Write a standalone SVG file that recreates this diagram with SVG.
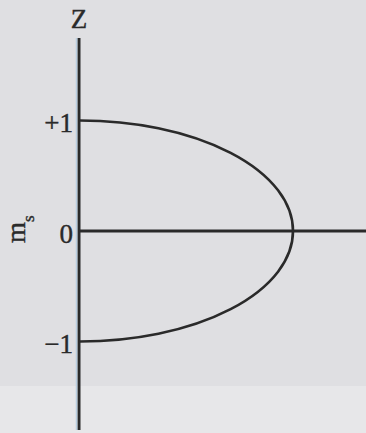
<svg xmlns="http://www.w3.org/2000/svg" width="366" height="433" viewBox="0 0 366 433">
<style>
.t{font-family:"Liberation Serif","DejaVu Serif",serif;font-size:27px;fill:#2a2a2a;stroke:#2a2a2a;stroke-width:0.4}
.ax{stroke:#2a2a2a;stroke-width:3;fill:none}
.cv{stroke:#2a2a2a;stroke-width:2.6;fill:none}
</style>
<rect width="366" height="433" fill="#dfdfe2"/>
<rect y="386" width="366" height="47" fill="#e7e7e9"/>
<g id="connectors">
<line class="ax" x1="79" y1="38" x2="79" y2="430"/>
<line x1="76.5" y1="38" x2="76.5" y2="430" stroke="#b8cde0" stroke-width="1.5"/>
<line class="ax" x1="79" y1="231" x2="366" y2="231"/>
<path class="cv" d="M80,120.5 A213,110.5 0 0 1 80,341.5"/>
</g>
<g id="label-z"><text class="t" x="79" y="28" text-anchor="middle">Z</text></g>
<g id="label-p1"><text class="t" x="73" y="132" text-anchor="end">+1</text></g>
<g id="label-0"><text class="t" x="73" y="243" text-anchor="end">0</text></g>
<g id="label-m1"><text class="t" x="73" y="353" text-anchor="end">−1</text></g>
<g id="label-ms"><text class="t" transform="translate(25,243) rotate(-90)">m<tspan font-size="17" dy="9">s</tspan></text></g>
</svg>
